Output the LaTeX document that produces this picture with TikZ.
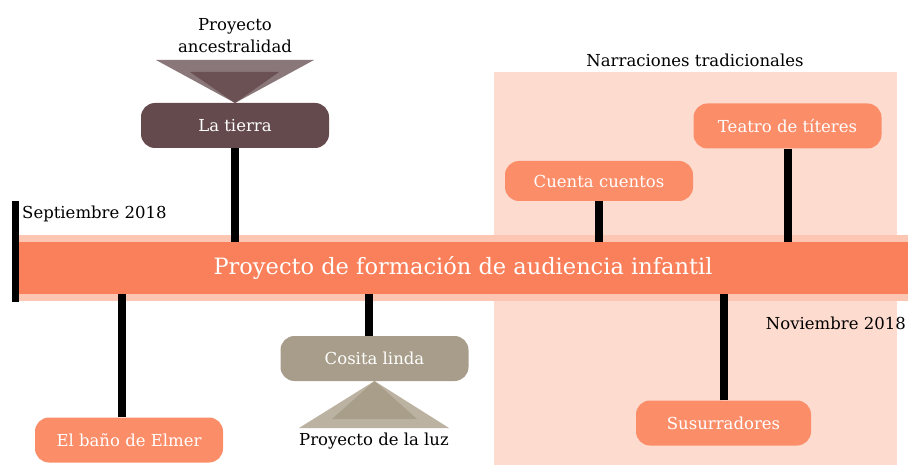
\documentclass[tikz,border=0pt]{standalone}
\usepackage{fontspec}
\setmainfont{DejaVu Serif}
\usetikzlibrary{positioning}
\definecolor{fondo}{HTML}{FDDBCF}
\definecolor{banda}{HTML}{FDC6B3}
\definecolor{barra}{HTML}{F9805A}
\definecolor{naranja}{HTML}{FC8D69}
\definecolor{tierra}{HTML}{644A4D}
\definecolor{tierraA}{HTML}{8A7779}
\definecolor{tierraB}{HTML}{6B5154}
\definecolor{luz}{HTML}{A79D8A}
\definecolor{luzA}{HTML}{BCB2A2}
\definecolor{luzB}{HTML}{A99E8A}
\begin{document}
\begin{tikzpicture}[x=1pt,y=-1pt,font=\fontsize{16.5}{22}\selectfont,
  caja/.style={rounded corners=14pt,minimum width=188pt,minimum height=45pt,inner sep=0pt,text=white},
  conector/.style={line width=8pt}]
\useasboundingbox (0,0) rectangle (908,465);
% zona de narraciones
\fill[fondo] (494,72) rectangle (897,465);
\node[anchor=south] (narr) at (695,70) {Narraciones tradicionales};
% linea de tiempo
\fill[banda] (18,235) rectangle (908,301);
\node[fill=barra,minimum width=890pt,minimum height=52pt,inner sep=0pt,text=white,font=\fontsize{22.5}{26}\selectfont] (barra) at (463,268) {Proyecto de formación de audiencia infantil};
\draw[line width=7pt] (15.5,201) -- (15.5,302);
\node[anchor=west,inner sep=0pt] (inicio) at (22,214) {Septiembre 2018};
\node[anchor=east,inner sep=0pt] (fin) at (906,323) {Noviembre 2018};
% proyectos arriba
\fill[tierraA] (156,60) -- (314,60) -- (235,103) -- cycle;
\fill[tierraB] (190,72) -- (279,72) -- (235,103) -- cycle;
\node[align=center] (ances) at (235,36) {Proyecto\\ancestralidad};
\node[caja,fill=tierra] (tierra) at (235,125.5) {La tierra};
\node[caja,fill=naranja,minimum height=40pt] (cuenta) at (599,181) {Cuenta cuentos};
\node[caja,fill=naranja] (teatro) at (787.5,126) {Teatro de títeres};
% proyectos abajo
\node[caja,fill=naranja] (elmer) at (129,440) {El baño de Elmer};
\node[caja,fill=luz] (cosita) at (374.5,358.5) {Cosita linda};
\fill[luzA] (299,428) -- (449,428) -- (374.5,381) -- cycle;
\fill[luzB] (332,419) -- (417,419) -- (374.5,381) -- cycle;
\node (luz) at (374,441) {Proyecto de la luz};
\node[caja,fill=naranja,minimum width=175pt] (susu) at (723.5,423) {Susurradores};
% conectores
\draw[conector] (tierra.south) -- (tierra.south |- barra.north);
\draw[conector] (cuenta.south) -- (cuenta.south |- barra.north);
\draw[conector] (teatro.south) -- (teatro.south |- barra.north);
\draw[conector] ([xshift=-7pt]elmer.north) -- ([xshift=-7pt]elmer.north |- barra.south);
\draw[conector] ([xshift=-6pt]cosita.north) -- ([xshift=-6pt]cosita.north |- barra.south);
\draw[conector] (susu.north) -- (susu.north |- barra.south);
\end{tikzpicture}
\end{document}
